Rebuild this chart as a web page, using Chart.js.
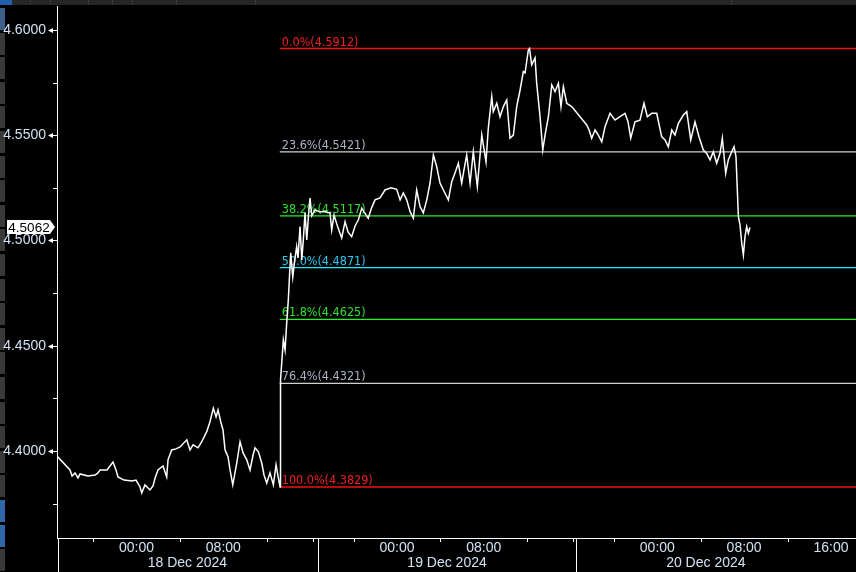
<!DOCTYPE html>
<html>
<head>
<meta charset="utf-8">
<script src="https://cdn.jsdelivr.net/npm/chart.js@4.4.1/dist/chart.umd.min.js"></script>
<style>
  html, body { margin: 0; padding: 0; background: #000; }
  #wrap { width: 856px; height: 572px; }
</style>
</head>
<body>
<div id="wrap"><canvas id="chartCanvas" width="856" height="572"></canvas></div>
<script>
// time in hours counted from 18 Dec 2024 00:00
const hours = [
  -7.33, -6.13, -5.94, -5.67, -5.39, -5.21, -4.47, -3.82, -3.55, -3.36,
  -2.72, -2.17, -1.89, -1.71, -1.15, -0.41, -0.05, 0.32, 0.48, 0.78,
  1.24, 1.52, 1.71, 1.98, 2.44, 2.78, 2.90, 3.24, 3.64, 4.01,
  4.63, 4.93, 5.21, 5.67, 6.01, 6.47, 6.77, 7.08, 7.33, 7.51,
  7.79, 7.97, 8.16, 8.43, 8.62, 8.87, 9.24, 9.54, 9.82, 10.16,
  10.46, 10.74, 10.92, 11.23, 11.54, 11.75, 12.00, 12.30, 12.61, 12.86,
  13.04, 13.23, 13.27, 13.38, 13.53, 13.69, 13.84, 13.99, 14.08, 14.21,
  14.40, 14.56, 14.76, 14.88, 15.07, 15.23, 15.37, 15.53, 15.69, 15.85,
  15.99, 16.15, 16.45, 16.91, 17.37, 17.83, 17.99, 18.20, 18.57, 18.91,
  19.22, 19.49, 19.83, 20.14, 20.44, 20.76, 20.97, 21.36, 21.66, 21.98,
  22.44, 22.90, 23.46, 23.98, 24.29, 24.59, 24.90, 25.21, 25.51, 25.82,
  26.13, 26.43, 26.75, 27.05, 27.36, 27.67, 27.97, 28.28, 28.74, 29.05,
  29.35, 29.66, 29.97, 30.18, 30.43, 30.74, 31.04, 31.41, 31.82, 32.21,
  32.42, 32.74, 32.88, 33.20, 33.50, 33.81, 34.12, 34.42, 34.73, 35.04,
  35.35, 35.65, 35.81, 36.11, 36.22, 36.42, 36.73, 36.88, 37.19, 37.44,
  37.65, 37.96, 38.27, 38.57, 38.88, 39.12, 39.34, 39.65, 40.11, 41.49,
  41.71, 41.95, 42.26, 42.56, 42.88, 43.18, 43.64, 44.10, 44.56, 45.02,
  45.30, 45.55, 45.94, 46.40, 46.77, 47.08, 47.48, 47.94, 48.40, 48.71,
  49.01, 49.33, 49.63, 49.94, 50.40, 50.71, 51.08, 51.47, 51.84, 52.24,
  52.55, 52.86, 53.16, 53.47, 53.78, 53.99, 54.30, 54.54, 54.86, 55.07,
  55.25, 55.47, 55.62, 55.78, 55.93, 56.08, 56.24, 56.39, 56.54
];
const prices = [
  4.3976, 4.3910, 4.3881, 4.3896, 4.3872, 4.3891, 4.3881, 4.3886, 4.3896, 4.3910,
  4.3910, 4.3948, 4.3910, 4.3877, 4.3862, 4.3858, 4.3862, 4.3829, 4.3801, 4.3839,
  4.3815, 4.3834, 4.3872, 4.3910, 4.3929, 4.3877, 4.3958, 4.4005, 4.4010, 4.4019,
  4.4053, 4.4005, 4.4029, 4.4015, 4.4044, 4.4092, 4.4139, 4.4203, 4.4162, 4.4195,
  4.4133, 4.4100, 4.4005, 4.3973, 4.3910, 4.3839, 4.3943, 4.4044, 4.3991, 4.3958,
  4.3910, 4.3981, 4.4015, 4.3996, 4.3943, 4.3886, 4.3848, 4.3896, 4.3839, 4.3934,
  4.3881, 4.3829, 4.4337, 4.4417, 4.4528, 4.4480, 4.4608, 4.4718, 4.4812, 4.4941,
  4.4827, 4.4898, 4.4971, 4.4917, 4.5066, 4.4908, 4.5003, 4.5131, 4.5003, 4.5121,
  4.5201, 4.5117, 4.5145, 4.5136, 4.5136, 4.5131, 4.5050, 4.5121, 4.5060, 4.5012,
  4.5090, 4.5041, 4.5018, 4.5069, 4.5097, 4.5153, 4.5136, 4.5106, 4.5155, 4.5193,
  4.5202, 4.5240, 4.5250, 4.5243, 4.5193, 4.5226, 4.5193, 4.5137, 4.5106, 4.5240,
  4.5161, 4.5131, 4.5193, 4.5272, 4.5406, 4.5350, 4.5273, 4.5240, 4.5193, 4.5279,
  4.5321, 4.5367, 4.5273, 4.5335, 4.5406, 4.5272, 4.5422, 4.5256, 4.5501, 4.5374,
  4.5533, 4.5683, 4.5612, 4.5652, 4.5588, 4.5636, 4.5668, 4.5486, 4.5501, 4.5636,
  4.5715, 4.5802, 4.5796, 4.5905, 4.5912, 4.5834, 4.5867, 4.5747, 4.5588, 4.5430,
  4.5501, 4.5588, 4.5739, 4.5707, 4.5747, 4.5636, 4.5731, 4.5652, 4.5636, 4.5549,
  4.5525, 4.5486, 4.5525, 4.5501, 4.5469, 4.5541, 4.5604, 4.5572, 4.5588, 4.5604,
  4.5564, 4.5486, 4.5564, 4.5572, 4.5652, 4.5588, 4.5604, 4.5604, 4.5493, 4.5478,
  4.5446, 4.5525, 4.5501, 4.5557, 4.5596, 4.5612, 4.5478, 4.5564, 4.5493, 4.5430,
  4.5414, 4.5383, 4.5422, 4.5367, 4.5414, 4.5486, 4.5319, 4.5383, 4.5422, 4.5446,
  4.5398, 4.5113, 4.5074, 4.4987, 4.4931, 4.5018, 4.5066, 4.5034, 4.5062
];

// fibonacci retracement drawn from the 18 Dec low to the 19 Dec high
const fibLevels = [0, 23.6, 38.2, 50, 61.8, 76.4, 100];
const fibPrices = [4.5912, 4.5421, 4.5117, 4.4871, 4.4625, 4.4321, 4.3829];
const fibStartHour = 13.2;

const yTicks = [4.40, 4.45, 4.50, 4.55, 4.60];
const yMinorTicks = [4.375, 4.425, 4.475, 4.525, 4.575];
const timeTicks = [0, 8, 24, 32, 48, 56, 64];
const timeLabels = ['00:00', '08:00', '00:00', '08:00', '00:00', '08:00', '16:00'];
const dateCenters = [4.69, 28.62, 52.47];
const dateLabels = ['18 Dec 2024', '19 Dec 2024', '20 Dec 2024'];
const daySeparators = [16.7, 40.5];
const timeMinorTicks = [-4, 4, 12, 16.3, 20, 28, 36, 40.2, 44, 52, 60];

const X_MIN = -7.33, X_MAX = 66.31;
const Y_MIN = 4.35867, Y_MAX = 4.6114;

const fibLineColors = ['#f01010', '#d0d0d0', '#28f028', '#10eeff', '#28f028', '#d0d0d0', '#f01010'];
const fibTextColors = ['#f02020', '#aab2c4', '#2ee02e', '#2cc8f0', '#2ee02e', '#aab2c4', '#f02020'];
const axisFont = '"Liberation Sans", Arial, sans-serif';
const fibFont = '12.5px "DejaVu Sans Condensed", "Noto Sans", sans-serif';
const labelColor = '#d2e2f4';

const chrome = {
    id: 'chrome',
    beforeDraw(chart) {
        const c = chart.ctx;
        c.save();
        c.fillStyle = '#000';
        c.fillRect(0, 0, chart.width, chart.height);
        // top toolbar strip (cut off)
        c.fillStyle = '#262626';
        c.fillRect(0, 0, chart.width, 5);
        c.fillStyle = '#1f5fae';
        c.fillRect(0, 0, 12, 5);
        c.fillStyle = '#3a3a3a';
        [30, 50, 88, 112, 132, 176, 255, 731].forEach(x => c.fillRect(x, 0, 1, 5));
        // left side button strip (cut off)
        for (let y = 8; y < 572; y += 24.6) {
            const blue = y > 490 && y < 540;
            c.fillStyle = blue ? '#2f68a6' : (y < 30 ? '#3b5f86' : '#393939');
            c.fillRect(0, Math.round(y), 5, 22);
        }
        c.restore();
    },
    beforeDatasetsDraw(chart) {
        const c = chart.ctx, xs = chart.scales.x, ys = chart.scales.y;
        const x0 = xs.getPixelForValue(fibStartHour) + 2;
        c.save();
        c.font = fibFont;
        c.textAlign = 'left';
        c.textBaseline = 'alphabetic';
        fibLevels.forEach((lv, i) => {
            const y = ys.getPixelForValue(fibPrices[i]);
            c.fillStyle = fibTextColors[i];
            c.fillText(lv.toFixed(1) + '%(' + fibPrices[i].toFixed(4) + ')', x0, y - 3);
        });
        c.restore();
    },
    afterDraw(chart) {
        const c = chart.ctx, xs = chart.scales.x, ys = chart.scales.y, a = chart.chartArea;
        c.save();
        c.strokeStyle = '#fff';
        c.fillStyle = '#fff';
        c.lineWidth = 1;
        // arrows at major y ticks
        yTicks.forEach(v => {
            const y = Math.round(ys.getPixelForValue(v)) + 0.5;
            c.beginPath();
            c.moveTo(48, y);
            c.lineTo(53, y - 2.5);
            c.lineTo(53, y + 2.5);
            c.closePath();
            c.fill();
            c.beginPath();
            c.moveTo(53, y);
            c.lineTo(a.left, y);
            c.stroke();
        });
        yMinorTicks.forEach(v => {
            const y = Math.round(ys.getPixelForValue(v)) + 0.5;
            c.beginPath();
            c.moveTo(53, y);
            c.lineTo(a.left, y);
            c.stroke();
        });
        // x axis ticks, day separators, axis continuation
        timeMinorTicks.forEach(v => {
            const x = Math.round(xs.getPixelForValue(v)) + 0.5;
            c.beginPath();
            c.moveTo(x, a.bottom);
            c.lineTo(x, a.bottom + 4);
            c.stroke();
        });
        daySeparators.forEach(v => {
            const x = Math.round(xs.getPixelForValue(v)) + 0.5;
            c.beginPath();
            c.moveTo(x, a.bottom);
            c.lineTo(x, chart.height);
            c.stroke();
        });
        c.beginPath();
        c.moveTo(a.left + 1.5, a.bottom);
        c.lineTo(a.left + 1.5, chart.height);
        c.stroke();
        // last price tag
        const last = prices[prices.length - 1];
        const py = Math.round(ys.getPixelForValue(last));
        c.fillStyle = '#fff';
        c.beginPath();
        c.moveTo(7, py - 7);
        c.lineTo(50, py - 7);
        c.lineTo(55, py);
        c.lineTo(50, py + 7);
        c.lineTo(7, py + 7);
        c.closePath();
        c.fill();
        c.fillStyle = '#000';
        c.font = '13.5px ' + axisFont;
        c.textAlign = 'center';
        c.textBaseline = 'middle';
        c.fillText(last.toFixed(4), 29, py + 1);
        c.restore();
    }
};

const ctx = document.getElementById('chartCanvas').getContext('2d');

const priceData = hours.map((h, i) => ({ x: h, y: prices[i] }));
const fibSets = fibPrices.map((p, i) => ({
    data: [{ x: fibStartHour, y: p }, { x: X_MAX, y: p }],
    borderColor: fibLineColors[i],
    borderWidth: 1.3,
    pointRadius: 0
}));

const chart = new Chart(ctx, {
    type: 'line',
    data: {
        datasets: [{
            data: priceData,
            borderColor: '#ffffff',
            borderWidth: 1.5,
            pointRadius: 0,
            tension: 0
        }].concat(fibSets)
    },
    options: {
        responsive: false,
        animation: false,
        layout: { padding: { top: 6, left: 0, right: 0, bottom: 0 } },
        plugins: {
            legend: { display: false },
            tooltip: { enabled: false }
        },
        scales: {
            x: {
                type: 'linear',
                min: X_MIN,
                max: X_MAX,
                afterFit: s => {
                    s.height = 34;
                    s.paddingLeft = 0;
                    s.paddingRight = 0;
                },
                afterBuildTicks: s => {
                    s.ticks = timeTicks.concat(dateCenters).map(v => ({ value: v }));
                },
                grid: { display: false, drawTicks: false },
                border: { display: true, color: '#ffffff', width: 1 },
                ticks: {
                    autoSkip: false,
                    maxRotation: 0,
                    minRotation: 0,
                    padding: 3,
                    color: labelColor,
                    font: { family: axisFont, size: 14, lineHeight: 1.07 },
                    callback: (v, i) => i < timeTicks.length ? timeLabels[i] : ['', dateLabels[i - timeTicks.length]]
                }
            },
            y: {
                min: Y_MIN,
                max: Y_MAX,
                afterFit: s => {
                    s.width = 57;
                    s.paddingTop = 0;
                    s.paddingBottom = 0;
                },
                afterBuildTicks: s => {
                    s.ticks = yTicks.map(v => ({ value: v }));
                },
                grid: { display: false, drawTicks: false },
                border: { display: true, color: '#ffffff', width: 1 },
                ticks: {
                    padding: 11,
                    color: labelColor,
                    font: { family: axisFont, size: 14, lineHeight: 1 },
                    callback: v => v.toFixed(4)
                }
            }
        }
    },
    plugins: [chrome]
});
</script>
</body>
</html>
